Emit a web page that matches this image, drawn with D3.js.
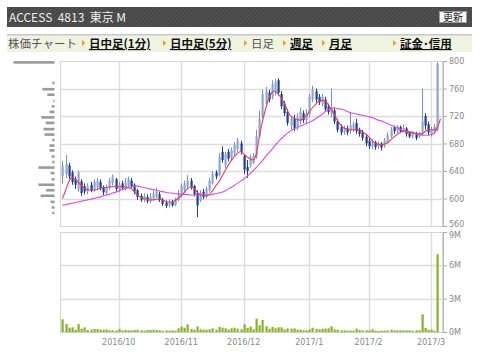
<!DOCTYPE html>
<html><head><meta charset="utf-8">
<script src="https://cdn.jsdelivr.net/npm/d3@7"></script>
<style>body{margin:0;background:#fff;}svg{display:block;}</style>
</head><body><svg id="c" width="480" height="360"></svg>
<script>
// ---- data ----
const openP  = [632,635,648,638,628,614,625,618,610,620,613,616,624,616,608,615,622,628,612,622,614,618,626,620,612,604,598,602,596,600,602,606,598,594,590,595,591,598,604,612,618,626,618,608,598,610,602,612,622,638,634,668,648,668,660,666,672,680,662,646,648,652,662,690,720,738,754,748,756,772,752,738,726,706,716,704,712,724,714,722,744,756,748,738,744,734,724,728,712,704,696,702,698,700,710,700,696,690,684,676,682,676,680,676,682,690,704,698,704,698,702,696,690,694,690,694,720,708,694,698,700];
const closeP = [648,650,632,624,620,638,608,610,618,612,624,626,614,609,616,626,632,614,620,615,624,628,618,610,602,598,604,596,602,607,610,598,592,589,594,590,598,608,618,622,626,616,606,590,608,602,614,626,636,632,660,656,664,658,670,678,684,668,642,640,660,662,690,716,752,756,744,766,770,754,734,724,710,716,702,718,726,714,724,748,758,744,740,748,730,726,732,712,700,696,702,696,706,708,698,694,688,680,676,682,675,680,674,684,692,700,698,704,698,703,694,690,694,688,694,712,706,696,700,704,796];
const highP  = [655,663,652,641,632,641,628,622,622,624,628,630,628,619,620,630,635,630,624,626,630,632,630,622,614,607,608,606,608,612,616,610,601,597,598,598,601,612,622,626,634,630,620,612,612,614,617,630,640,641,666,676,668,672,674,682,688,684,664,656,664,666,700,728,758,762,758,772,774,775,756,742,730,720,722,724,732,728,730,752,764,760,752,752,748,738,760,732,716,708,706,706,726,712,716,703,700,694,688,686,684,683,682,688,696,704,706,707,706,708,704,698,698,697,697,760,724,712,704,708,798];
const lowP   = [622,630,628,620,614,610,604,606,606,609,610,612,612,604,605,612,619,610,609,612,612,616,615,606,598,595,595,593,593,597,600,595,589,586,587,588,589,596,602,608,614,613,603,573,595,599,600,610,620,628,632,652,644,654,656,662,668,664,636,630,645,650,658,688,716,734,740,744,750,750,730,720,706,700,698,700,708,710,710,718,740,740,736,734,726,722,718,708,696,692,693,692,694,697,694,690,684,676,672,672,671,672,670,674,680,688,694,695,695,696,690,688,687,685,688,692,700,692,690,694,698];
const volumeM = [1.14,0.72,0.39,0.42,0.21,0.72,0.30,0.42,0.18,0.21,0.27,0.27,0.21,0.21,0.24,0.15,0.15,0.15,0.27,0.15,0.18,0.15,0.15,0.18,0.21,0.15,0.12,0.18,0.18,0.21,0.18,0.15,0.12,0.15,0.12,0.15,0.12,0.33,0.48,0.39,0.69,0.27,0.21,0.51,0.24,0.21,0.21,0.24,0.33,0.21,0.45,0.39,0.33,0.21,0.33,0.39,0.30,0.24,0.69,0.36,0.48,0.24,1.20,0.60,1.08,0.51,0.30,0.45,0.33,0.42,0.42,0.24,0.33,0.30,0.33,0.21,0.21,0.15,0.15,0.24,0.39,0.27,0.24,0.30,0.30,0.33,0.51,0.24,0.21,0.15,0.15,0.12,0.12,0.12,0.30,0.18,0.15,0.15,0.15,0.24,0.12,0.09,0.12,0.12,0.15,0.21,0.15,0.15,0.15,0.15,0.15,0.15,0.12,0.15,0.15,1.59,0.36,0.21,0.21,0.12,7.0];
const maShort = [600,612,624,631,628,624,619,615,613,612,612,613,615,616,616,617,617,618,617,617,617,616,614,610,605,602,600,599,598,598,599,599,598,596,595,595,597,600,604,609,614,617,615,610,606,604,604,606,611,618,624,632,640,648,655,661,666,668,665,661,658,656,664,690,712,730,745,754,756,752,746,738,728,720,717,715,714,716,720,726,732,737,741,743,742,737,730,722,714,707,703,701,700,700,700,700,697,694,690,685,681,679,678,679,681,685,689,693,696,698,698,697,696,695,694,694,697,700,700,700,704,716];
const maLong  = [590,591,592,593,594,595,596,597,598,599,600,601,602,604,605,606,608,609,611,613,614,616,617,618,618,617,616,615,614,613,612,611,610,609,608,608,607,607,606,606,606,605,605,605,605,605,605,605,606,607,608,609,611,614,616,619,622,625,628,632,636,640,645,650,655,661,666,671,677,682,687,691,695,698,701,703,705,707,709,711,713,716,719,722,726,729,731,732,731,730,729,727,725,724,723,722,721,720,719,718,716,714,713,711,709,707,705,703,701,699,697,696,695,694,693,692,692,692,693,695,702];
const priceTicks = [560,600,640,680,720,760,800];
const volTicks = [0,3,6,9];
const volTickLabels = ["0M","3M","6M","9M"];
const monthIdx = [18,38,58,79,98,118];
const monthLabels = ["2016/10","2016/11","2016/12","2017/1","2017/2","2017/3"];
const profilePrice = [798,768,759,751,742,734,726,718,710,701,693,685,677,670,661,653,645,637,628,620,612,604,595,587,579];
const profileVol   = [7.4,0.4,2.2,1.3,0.2,0.5,0.9,2.4,1.6,2.0,1.8,0.4,0.9,0.9,0.5,0.4,2.9,0.7,0.5,2.9,1.5,2.5,0.7,0.5,0.4];
const titleText = "ACCESS\u00a0 4813\u00a0 東京 M";
const navLabels = ["日中足(1分)","日中足(5分)","日足","週足","月足","証金･信用"];
const navLink   = [true,true,false,true,true,true];

// ---- drawing ----
const svg = d3.select("#c");
const L=60, R=443, PT=61, PB=226, VT=232, VB=332;
const n = closeP.length;
const x = d3.scaleLinear().domain([-0.8, n+0.8]).range([L, R]);
const y = d3.scaleLinear().domain([560, 800]).range([PB, PT]);
const yv = d3.scaleLinear().domain([0, 9]).range([VB, VT]);
const px = i => Math.round(x(i)) + 0.5;

// header
const defs = svg.append("defs");
const pat = defs.append("pattern").attr("id","stripe").attr("width",3).attr("height",3)
  .attr("patternUnits","userSpaceOnUse").attr("patternTransform","rotate(45)");
pat.append("rect").attr("width",3).attr("height",3).attr("fill","#474747");
pat.append("rect").attr("width",1).attr("height",3).attr("fill","#555");
svg.append("rect").attr("x",7).attr("y",7).attr("width",465).attr("height",20).attr("fill","url(#stripe)");
svg.append("text").attr("x",9).attr("y",22).attr("fill","#eeeeee")
  .style("font-family","'Noto Sans CJK JP','DejaVu Sans',sans-serif").style("font-size","12px").text(titleText);
svg.append("rect").attr("x",439.5).attr("y",11.5).attr("width",27).attr("height",11).attr("fill","#fafafa").attr("stroke","#999");
svg.append("text").attr("x",453).attr("y",21).attr("text-anchor","middle").attr("fill","#222")
  .style("font-family","'Noto Sans CJK JP',sans-serif").style("font-size","10px").text("更新");

// nav bar
svg.append("rect").attr("x",7).attr("y",34).attr("width",465).attr("height",18).attr("fill","#eef4e0");
svg.append("rect").attr("x",7).attr("y",34).attr("width",465).attr("height",1.5).attr("fill","#c8c8c8");
const navFont = "'Noto Sans CJK JP',sans-serif";
svg.append("text").attr("x",8).attr("y",48).attr("fill","#555").style("font-family",navFont).style("font-size","11.5px").text("株価チャート");
const navTri = [82,163,244,283,322,393];
navLabels.forEach((lab,k)=>{
  const tx = navTri[k];
  svg.append("path").attr("d",`M${tx},${40}L${tx+3.5},${43}L${tx},${46}Z`).attr("fill","#f0a028");
  svg.append("text").attr("x",tx+7).attr("y",48)
    .attr("fill", navLink[k] ? "#111" : "#555")
    .style("font-family",navFont).style("font-size","11.5px")
    .style("font-weight", navLink[k] ? "bold" : "normal")
    .style("text-decoration", navLink[k] ? "underline" : "none")
    .text(lab);
});

// panels
const grid = "#dcdcdc";
svg.append("rect").attr("x",L+0.5).attr("y",PT+0.5).attr("width",R-L-1).attr("height",PB-PT).attr("fill","#fff").attr("stroke","#d4d4d4");
svg.append("rect").attr("x",L+0.5).attr("y",VT+0.5).attr("width",R-L-1).attr("height",VB-VT).attr("fill","#fff").attr("stroke","#d4d4d4");
priceTicks.filter(p=>p>560&&p<800).forEach(p=>{
  svg.append("line").attr("x1",L).attr("x2",R).attr("y1",Math.round(y(p))+0.5).attr("y2",Math.round(y(p))+0.5).attr("stroke",grid).attr("stroke-width",1.4);
});
volTicks.filter(v=>v>0&&v<9).forEach(v=>{
  svg.append("line").attr("x1",L).attr("x2",R).attr("y1",Math.round(yv(v))+0.5).attr("y2",Math.round(yv(v))+0.5).attr("stroke",grid).attr("stroke-width",1.4);
});
monthIdx.forEach(i=>{
  svg.append("line").attr("x1",px(i)).attr("x2",px(i)).attr("y1",PT).attr("y2",PB).attr("stroke",grid).attr("stroke-width",1.4);
  svg.append("line").attr("x1",px(i)).attr("x2",px(i)).attr("y1",VT).attr("y2",VB).attr("stroke",grid).attr("stroke-width",1.4);
});
svg.append("line").attr("x1",L).attr("x2",R).attr("y1",VB+0.5).attr("y2",VB+0.5).attr("stroke","#ccc");

// axes
const lblFont = "'DejaVu Sans',sans-serif";
const ay = svg.append("g").attr("transform",`translate(${R},0)`).call(d3.axisRight(y).tickValues(priceTicks).tickSize(4).tickPadding(2));
const av = svg.append("g").attr("transform",`translate(${R},0)`).call(d3.axisRight(yv).tickValues(volTicks).tickSize(4).tickPadding(2).tickFormat((d,k)=>volTickLabels[k]));
[ay,av].forEach(g=>{
  g.select(".domain").attr("stroke","#bbb");
  g.selectAll(".tick line").attr("stroke","#aaa");
  g.selectAll(".tick text").attr("fill","#888").style("font-family",lblFont).style("font-size","8px");
});
// the 560 and 9M labels sit back to back; nudge them apart slightly
ay.selectAll(".tick text").filter(d=>d===560).attr("y",-2.5);
av.selectAll(".tick text").filter(d=>d===9).attr("y",2.5);
svg.selectAll(".mlab").data(monthIdx).enter().append("text")
  .attr("x",i=>x(i)).attr("y",345).attr("text-anchor","middle").attr("fill","#888")
  .style("font-family",lblFont).style("font-size","8px").text((d,k)=>monthLabels[k]);

// volume profile
const pw = d3.scaleLinear().domain([0, 7.4]).range([0, 41]);
svg.selectAll(".prof").data(profilePrice).enter().append("rect")
  .attr("x",(p,k)=>54.5-pw(profileVol[k])).attr("y",p=>y(p)-1.3)
  .attr("width",(p,k)=>Math.max(1,pw(profileVol[k]))).attr("height",2.6).attr("fill","#9a9a9a");

// candles
const upC = "#8ea6cf", upW="#7490c0", dnC = "#1e3f94";
const cg = svg.append("g");
d3.range(n).forEach(i=>{
  const up = closeP[i] >= openP[i];
  cg.append("line").attr("x1",px(i)).attr("x2",px(i)).attr("y1",y(highP[i])).attr("y2",y(lowP[i]))
    .attr("stroke", up?upW:dnC).attr("stroke-width",1);
  const top = y(Math.max(openP[i],closeP[i])), bot = y(Math.min(openP[i],closeP[i]));
  cg.append("rect").attr("x",Math.round(x(i))-0.5).attr("y",top).attr("width",2.2).attr("height",Math.max(1,bot-top))
    .attr("fill", up?upC:dnC);
});

// moving averages
const line = d3.line().x((d,i)=>x(i)).y(d=>y(d)).curve(d3.curveMonotoneX);
svg.append("path").datum(maLong).attr("d",line).attr("fill","none").attr("stroke","#d84cf0").attr("stroke-width",1.1);
svg.append("path").datum(maShort).attr("d",line).attr("fill","none").attr("stroke","#ee3a5a").attr("stroke-width",1.1);

// volume bars
svg.selectAll(".vb").data(volumeM).enter().append("rect")
  .attr("x",(d,i)=>Math.round(x(i))-0.5).attr("y",d=>yv(d)).attr("width",2.2).attr("height",d=>VB-yv(d)).attr("fill","#86b421");
</script></body></html>
